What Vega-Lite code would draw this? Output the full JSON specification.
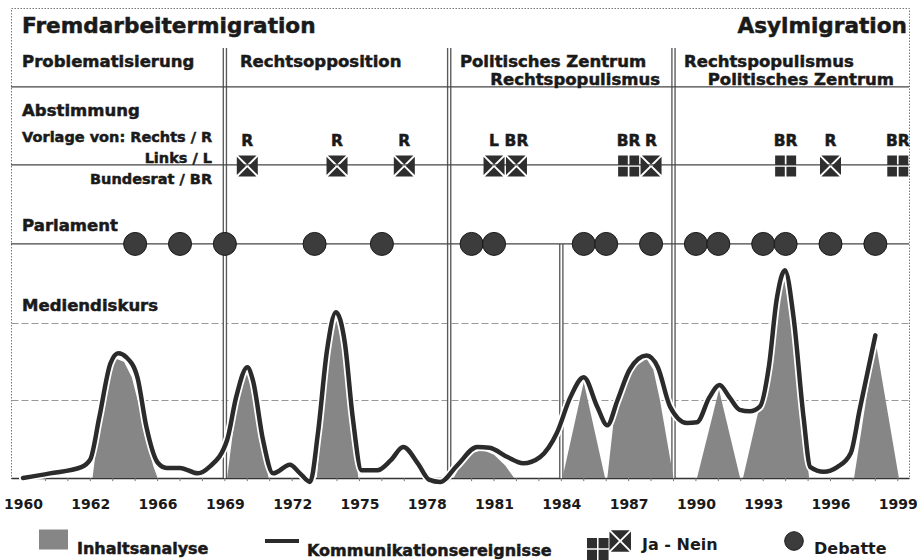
{
  "$schema": "https://vega.github.io/schema/vega-lite/v6.json",
  "width": 898,
  "height": 470,
  "autosize": {"type": "none"},
  "padding": {"left": 11, "top": 8, "right": 8, "bottom": 82},
  "background": "white",
  "config": {
    "view": {"stroke": "#777", "strokeDash": [1.5, 1.5], "strokeWidth": 1},
    "font": "DejaVu Sans",
    "text": {"font": "DejaVu Sans", "fontWeight": "bold", "color": "#1a1a1a", "baseline": "middle", "stroke": "#1a1a1a", "strokeWidth": 0.5},
    "legend": {"title": null, "padding": 0, "labelFont": "DejaVu Sans", "labelFontWeight": "bold", "labelFontSize": 16, "labelColor": "#1a1a1a", "labelLimit": 400}
  },
  "datasets": {
    "media": [
      {"year": 1960.0, "v": 0}, {"year": 1961.2, "v": 3}, {"year": 1962.6, "v": 7}, {"year": 1963.0, "v": 12},
      {"year": 1963.4, "v": 39}, {"year": 1963.9, "v": 74}, {"year": 1964.25, "v": 80.5}, {"year": 1964.6, "v": 78},
      {"year": 1965.1, "v": 65}, {"year": 1965.5, "v": 33}, {"year": 1966.0, "v": 10}, {"year": 1966.4, "v": 6.5},
      {"year": 1967.0, "v": 6.5}, {"year": 1967.8, "v": 3}, {"year": 1968.3, "v": 7}, {"year": 1969.1, "v": 24.5},
      {"year": 1969.5, "v": 52}, {"year": 1970.0, "v": 71.5}, {"year": 1970.25, "v": 63}, {"year": 1970.7, "v": 24.5},
      {"year": 1971.15, "v": 3}, {"year": 1971.9, "v": 8.5}, {"year": 1972.35, "v": 3}, {"year": 1972.8, "v": -2.5},
      {"year": 1973.15, "v": 29}, {"year": 1973.55, "v": 82}, {"year": 1973.95, "v": 107}, {"year": 1974.35, "v": 87},
      {"year": 1974.7, "v": 39}, {"year": 1975.1, "v": 5}, {"year": 1975.8, "v": 5}, {"year": 1976.4, "v": 11.5},
      {"year": 1976.95, "v": 20}, {"year": 1977.6, "v": 9.5}, {"year": 1978.1, "v": -1}, {"year": 1978.6, "v": -2.5},
      {"year": 1979.35, "v": 8}, {"year": 1980.25, "v": 20}, {"year": 1980.8, "v": 19.5}, {"year": 1981.6, "v": 13.5},
      {"year": 1982.3, "v": 9.5}, {"year": 1983.05, "v": 13.5}, {"year": 1983.8, "v": 29}, {"year": 1984.4, "v": 52},
      {"year": 1985.0, "v": 65}, {"year": 1985.6, "v": 46}, {"year": 1986.05, "v": 34}, {"year": 1986.5, "v": 50},
      {"year": 1987.05, "v": 70}, {"year": 1987.8, "v": 79}, {"year": 1988.3, "v": 71.5}, {"year": 1988.85, "v": 46},
      {"year": 1989.6, "v": 35.5}, {"year": 1990.05, "v": 36}, {"year": 1990.6, "v": 52}, {"year": 1991.05, "v": 60},
      {"year": 1991.5, "v": 52}, {"year": 1991.95, "v": 44}, {"year": 1992.4, "v": 43}, {"year": 1992.85, "v": 46},
      {"year": 1993.25, "v": 71.5}, {"year": 1993.6, "v": 115}, {"year": 1993.97, "v": 134}, {"year": 1994.35, "v": 104},
      {"year": 1994.8, "v": 39}, {"year": 1995.1, "v": 7}, {"year": 1995.7, "v": 4}, {"year": 1996.3, "v": 7},
      {"year": 1996.9, "v": 16}, {"year": 1997.3, "v": 44}, {"year": 1998.0, "v": 92}
    ],
    "inhalt": [
      {"seg": "A", "year": 1963.1, "v": 0}, {"seg": "A", "year": 1963.35, "v": 30}, {"seg": "A", "year": 1963.6, "v": 55},
      {"seg": "A", "year": 1963.9, "v": 71}, {"seg": "A", "year": 1964.15, "v": 77}, {"seg": "A", "year": 1964.5, "v": 75},
      {"seg": "A", "year": 1964.85, "v": 65}, {"seg": "A", "year": 1965.2, "v": 45}, {"seg": "A", "year": 1965.5, "v": 25},
      {"seg": "A", "year": 1965.8, "v": 8}, {"seg": "A", "year": 1966.0, "v": 0},
      {"seg": "B", "year": 1969.1, "v": 0}, {"seg": "B", "year": 1969.45, "v": 40}, {"seg": "B", "year": 1969.75, "v": 60},
      {"seg": "B", "year": 1970.0, "v": 68}, {"seg": "B", "year": 1970.25, "v": 55}, {"seg": "B", "year": 1970.55, "v": 28},
      {"seg": "B", "year": 1970.95, "v": 0},
      {"seg": "C", "year": 1973.1, "v": 0}, {"seg": "C", "year": 1973.35, "v": 45}, {"seg": "C", "year": 1973.6, "v": 78},
      {"seg": "C", "year": 1973.95, "v": 104}, {"seg": "C", "year": 1974.3, "v": 84}, {"seg": "C", "year": 1974.6, "v": 45},
      {"seg": "C", "year": 1974.95, "v": 0},
      {"seg": "D", "year": 1979.2, "v": 0}, {"seg": "D", "year": 1979.5, "v": 8}, {"seg": "D", "year": 1980.0, "v": 16},
      {"seg": "D", "year": 1980.5, "v": 18}, {"seg": "D", "year": 1981.0, "v": 15}, {"seg": "D", "year": 1981.5, "v": 8},
      {"seg": "D", "year": 1981.9, "v": 0},
      {"seg": "E", "year": 1984.05, "v": 0}, {"seg": "E", "year": 1985.0, "v": 62}, {"seg": "E", "year": 1985.95, "v": 0},
      {"seg": "F", "year": 1986.05, "v": 0}, {"seg": "F", "year": 1986.35, "v": 39}, {"seg": "F", "year": 1986.8, "v": 61},
      {"seg": "F", "year": 1987.3, "v": 72}, {"seg": "F", "year": 1987.8, "v": 77}, {"seg": "F", "year": 1988.1, "v": 70},
      {"seg": "F", "year": 1988.4, "v": 50}, {"seg": "F", "year": 1989.0, "v": 0},
      {"seg": "G", "year": 1990.05, "v": 0}, {"seg": "G", "year": 1991.03, "v": 57}, {"seg": "G", "year": 1991.97, "v": 0},
      {"seg": "H", "year": 1992.1, "v": 0}, {"seg": "H", "year": 1992.72, "v": 39}, {"seg": "H", "year": 1993.26, "v": 70},
      {"seg": "H", "year": 1993.6, "v": 112}, {"seg": "H", "year": 1993.97, "v": 132}, {"seg": "H", "year": 1994.3, "v": 105},
      {"seg": "H", "year": 1994.64, "v": 50}, {"seg": "H", "year": 1995.05, "v": 0},
      {"seg": "I", "year": 1997.05, "v": 0}, {"seg": "I", "year": 1998.0, "v": 89}, {"seg": "I", "year": 1999.05, "v": 0}
    ],
    "votes": [
      {"year": 1970, "by": "R", "vote": "Nein"},
      {"year": 1974, "by": "R", "vote": "Nein"},
      {"year": 1977, "by": "R", "vote": "Nein"},
      {"year": 1981, "by": "L", "vote": "Nein"},
      {"year": 1982, "by": "BR", "vote": "Nein"},
      {"year": 1987, "by": "BR", "vote": "Ja"},
      {"year": 1988, "by": "R", "vote": "Nein"},
      {"year": 1994, "by": "BR", "vote": "Ja"},
      {"year": 1996, "by": "R", "vote": "Nein"},
      {"year": 1999, "by": "BR", "vote": "Ja"}
    ],
    "debates": [
      {"year": 1965}, {"year": 1967}, {"year": 1969}, {"year": 1973}, {"year": 1976}, {"year": 1980},
      {"year": 1981}, {"year": 1985}, {"year": 1986}, {"year": 1988}, {"year": 1990}, {"year": 1991},
      {"year": 1993}, {"year": 1994}, {"year": 1996}, {"year": 1998}
    ],
    "years": [
      {"year": 1960}, {"year": 1961}, {"year": 1962}, {"year": 1963}, {"year": 1964}, {"year": 1965}, {"year": 1966}, {"year": 1967},
      {"year": 1968}, {"year": 1969}, {"year": 1970}, {"year": 1971}, {"year": 1972}, {"year": 1973}, {"year": 1974}, {"year": 1975},
      {"year": 1976}, {"year": 1977}, {"year": 1978}, {"year": 1979}, {"year": 1980}, {"year": 1981}, {"year": 1982}, {"year": 1983},
      {"year": 1984}, {"year": 1985}, {"year": 1986}, {"year": 1987}, {"year": 1988}, {"year": 1989}, {"year": 1990}, {"year": 1991},
      {"year": 1992}, {"year": 1993}, {"year": 1994}, {"year": 1995}, {"year": 1996}, {"year": 1997}, {"year": 1998}, {"year": 1999}
    ]
  },
  "layer": [
    {
      "data": {"values": [{"year": 1969}, {"year": 1979}, {"year": 1989}]},
      "mark": {"type": "rule", "color": "#5a5a5a", "strokeWidth": 4.5},
      "encoding": {
        "x": {"field": "year", "type": "quantitative",
          "scale": {"domain": [1959.465, 1999.5], "nice": false, "zero": false},
          "axis": {"values": [1960,1963,1966,1969,1972,1975,1978,1981,1984,1987,1990,1993,1996,1999],
            "format": "d",
            "labelExpr": "datum.value == 1963 ? '1962' : datum.label",
            "labelFont": "DejaVu Sans", "labelFontWeight": "bold", "labelFontSize": 14, "labelColor": "#1a1a1a",
            "labelPadding": 19, "labelOverlap": false, "labelFlush": false,
            "ticks": false, "domainColor": "#333", "domainWidth": 1.5, "grid": false, "title": null,
            "encode": {"labels": {"update": {"stroke": {"value": "#1a1a1a"}, "strokeWidth": {"value": 0.5}}}}}},
        "y": {"datum": 277.4, "scale": {"domain": [0, 303.2], "nice": false, "zero": false},
          "axis": {"values": [50, 100], "grid": true, "gridDash": [7, 3], "gridColor": "#999", "domain": false, "ticks": false, "labels": false, "title": null}},
        "y2": {"datum": 0}
      }
    },
    {
      "data": {"values": [{"year": 1969}, {"year": 1979}, {"year": 1989}]},
      "mark": {"type": "rule", "color": "white", "strokeWidth": 1.8},
      "encoding": {"x": {"field": "year", "type": "quantitative"}, "y": {"datum": 277.4}, "y2": {"datum": 0}}
    },
    {
      "data": {"values": [{"year": 1984}]},
      "mark": {"type": "rule", "color": "#5a5a5a", "strokeWidth": 4.5},
      "encoding": {"x": {"field": "year", "type": "quantitative"}, "y": {"datum": 151}, "y2": {"datum": 0}}
    },
    {
      "data": {"values": [{"year": 1984}]},
      "mark": {"type": "rule", "color": "white", "strokeWidth": 1.8},
      "encoding": {"x": {"field": "year", "type": "quantitative"}, "y": {"datum": 151}, "y2": {"datum": 0}}
    },
    {
      "data": {"values": [{"section": "Phasen", "level": 252.3}, {"section": "Abstimmung", "level": 202}, {"section": "Parlament", "level": 151}]},
      "mark": {"type": "rule", "color": "#444", "strokeWidth": 1.2},
      "encoding": {"y": {"field": "level", "type": "quantitative"}}
    },
    {
      "data": {"name": "years"},
      "mark": {"type": "rule", "color": "#777", "strokeWidth": 1},
      "encoding": {"x": {"field": "year", "type": "quantitative"}, "y": {"datum": 0}, "y2": {"datum": -2}}
    },
    {
      "data": {"name": "inhalt"},
      "mark": {"type": "area", "interpolate": "linear"},
      "encoding": {
        "x": {"field": "year", "type": "quantitative"},
        "y": {"field": "v", "type": "quantitative", "stack": null},
        "detail": {"field": "seg"},
        "color": {"datum": "Inhaltsanalyse", "type": "nominal", "scale": {"range": ["#868686"]},
          "legend": {"orient": "none", "legendX": 28, "legendY": 517, "symbolType": "M-1,-0.69H1V0.69H-1Z", "symbolSize": 841, "symbolStrokeWidth": 0, "labelOffset": 9,
            "encode": {"labels": {"update": {"dy": {"value": 9}, "stroke": {"value": "#1a1a1a"}, "strokeWidth": {"value": 0.5}}}}}}
      }
    },
    {
      "data": {"name": "media"},
      "mark": {"type": "line", "interpolate": "monotone", "strokeWidth": 8, "color": "white", "strokeCap": "round"},
      "encoding": {"x": {"field": "year", "type": "quantitative"}, "y": {"field": "v", "type": "quantitative"}}
    },
    {
      "data": {"name": "media"},
      "mark": {"type": "line", "interpolate": "monotone", "strokeWidth": 4.5, "strokeCap": "round", "strokeJoin": "round"},
      "encoding": {
        "x": {"field": "year", "type": "quantitative"},
        "y": {"field": "v", "type": "quantitative"},
        "stroke": {"datum": "Kommunikationsereignisse", "type": "nominal", "scale": {"range": ["#2b2b2b"]},
          "legend": {"orient": "none", "legendX": 252, "legendY": 514, "symbolType": "stroke", "symbolSize": 1156, "symbolStrokeWidth": 4, "labelOffset": 6,
            "encode": {"labels": {"update": {"dy": {"value": 10}, "stroke": {"value": "#1a1a1a"}, "strokeWidth": {"value": 0.5}}}}}}
      }
    },
    {
      "data": {"name": "votes"},
      "mark": {"type": "point", "filled": true, "fill": "#2e2e2e", "opacity": 1, "size": 441, "strokeWidth": 0},
      "encoding": {
        "x": {"field": "year", "type": "quantitative"},
        "y": {"datum": 201.3},
        "shape": {"field": "vote", "type": "nominal",
          "scale": {"domain": ["Ja", "Nein", "Ja - Nein"], "range": [
            "M-1,-1H-0.08V-0.08H-1ZM0.08,-1H1V-0.08H0.08ZM-1,0.08H-0.08V1H-1ZM0.08,0.08H1V1H0.08Z",
            "M-0.87,-1L0.87,-1L0,-0.13ZM-0.87,1L0.87,1L0,0.13ZM-1,-0.87L-1,0.87L-0.13,0ZM1,-0.87L1,0.87L0.13,0Z",
            "M-1,-0.32H-0.545V0.145H-1ZM-0.475,-0.32H-0.02V0.145H-0.475ZM-1,0.215H-0.545V0.68H-1ZM-0.475,0.215H-0.02V0.68H-0.475ZM0.08,-0.67L0.94,-0.67L0.51,-0.24ZM0.08,0.31L0.94,0.31L0.51,-0.12ZM0.02,-0.61L0.02,0.25L0.45,-0.18ZM1,-0.61L1,0.25L0.57,-0.18Z"]},
          "legend": {"orient": "none", "legendX": 576, "legendY": 515, "values": ["Ja - Nein"], "symbolSize": 1936, "symbolStrokeWidth": 0, "symbolFillColor": "#2e2e2e", "labelOffset": 11,
            "encode": {
              "symbols": {"update": {"fill": {"value": "#2e2e2e"}, "stroke": {"value": "transparent"}, "opacity": {"value": 1}}},
              "labels": {"update": {"dy": {"value": 12}, "stroke": {"value": "#1a1a1a"}, "strokeWidth": {"value": 0.5}}}}}}
      }
    },
    {
      "data": {"name": "votes"},
      "mark": {"type": "text", "fontSize": 15.5, "align": "center"},
      "encoding": {"x": {"field": "year", "type": "quantitative"}, "y": {"datum": 217.4}, "text": {"field": "by"}}
    },
    {
      "data": {"name": "debates"},
      "mark": {"type": "point", "shape": "circle", "filled": true, "size": 531, "stroke": "#1a1a1a", "strokeWidth": 1, "opacity": 1},
      "encoding": {
        "x": {"field": "year", "type": "quantitative"},
        "y": {"datum": 151},
        "fill": {"datum": "Debatte", "type": "nominal", "scale": {"range": ["#3c3c3c"]},
          "legend": {"orient": "none", "legendX": 773, "legendY": 523, "symbolType": "circle", "symbolSize": 346, "symbolStrokeColor": "#1a1a1a", "symbolStrokeWidth": 1, "labelOffset": 10, "labelBaseline": "top",
            "encode": {"labels": {"update": {"stroke": {"value": "#1a1a1a"}, "strokeWidth": {"value": 0.5}}}}}}
      }
    },
    {
      "data": {"values": [{"t": "Fremdarbeitermigration", "year": 1959.96, "level": 291}]},
      "mark": {"type": "text", "fontSize": 21.6, "align": "left"},
      "encoding": {"x": {"field": "year", "type": "quantitative"}, "y": {"field": "level", "type": "quantitative"}, "text": {"field": "t"}}
    },
    {
      "data": {"values": [{"t": "Asylmigration", "year": 1999.41, "level": 291}]},
      "mark": {"type": "text", "fontSize": 21.6, "align": "right"},
      "encoding": {"x": {"field": "year", "type": "quantitative"}, "y": {"field": "level", "type": "quantitative"}, "text": {"field": "t"}}
    },
    {
      "data": {"values": [
        {"t": "Problematisierung", "year": 1959.96, "level": 268.4},
        {"t": "Rechtsopposition", "year": 1969.67, "level": 268.4},
        {"t": "Politisches Zentrum", "year": 1979.48, "level": 268.4},
        {"t": "Rechtspopulismus", "year": 1989.47, "level": 268.4}
      ]},
      "mark": {"type": "text", "fontSize": 16.5, "align": "left"},
      "encoding": {"x": {"field": "year", "type": "quantitative"}, "y": {"field": "level", "type": "quantitative"}, "text": {"field": "t"}}
    },
    {
      "data": {"values": [
        {"t": "Rechtspopulismus", "year": 1988.4, "level": 256.8},
        {"t": "Politisches Zentrum", "year": 1998.83, "level": 256.8}
      ]},
      "mark": {"type": "text", "fontSize": 16.5, "align": "right"},
      "encoding": {"x": {"field": "year", "type": "quantitative"}, "y": {"field": "level", "type": "quantitative"}, "text": {"field": "t"}}
    },
    {
      "data": {"values": [
        {"t": "Abstimmung", "year": 1959.96, "level": 236.8},
        {"t": "Parlament", "year": 1959.96, "level": 162.6},
        {"t": "Mediendiskurs", "year": 1959.96, "level": 111}
      ]},
      "mark": {"type": "text", "fontSize": 16.5, "align": "left"},
      "encoding": {"x": {"field": "year", "type": "quantitative"}, "y": {"field": "level", "type": "quantitative"}, "text": {"field": "t"}}
    },
    {
      "data": {"values": [{"t": "Vorlage von: Rechts / R", "year": 1959.96, "level": 219.4}]},
      "mark": {"type": "text", "fontSize": 14.5, "align": "left"},
      "encoding": {"x": {"field": "year", "type": "quantitative"}, "y": {"field": "level", "type": "quantitative"}, "text": {"field": "t"}}
    },
    {
      "data": {"values": [
        {"t": "Links / L", "year": 1968.43, "level": 205.8},
        {"t": "Bundesrat / BR", "year": 1968.43, "level": 192.3}
      ]},
      "mark": {"type": "text", "fontSize": 14.5, "align": "right"},
      "encoding": {"x": {"field": "year", "type": "quantitative"}, "y": {"field": "level", "type": "quantitative"}, "text": {"field": "t"}}
    }
  ]
}
